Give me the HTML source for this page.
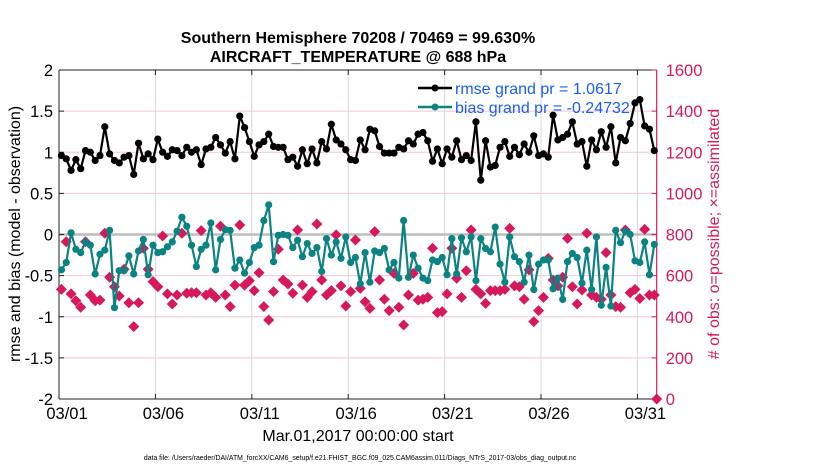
<!DOCTYPE html>
<html><head><meta charset="utf-8">
<style>
html,body{margin:0;padding:0;background:#fff;}
svg{display:block;font-family:"Liberation Sans",Arial,sans-serif;}
</style></head>
<body>
<svg id="chart" width="830" height="470" viewBox="0 0 830 470" xmlns="http://www.w3.org/2000/svg">
<g id="grid"></g>
<g id="axes"></g>
<g id="marks"></g>
<text x="358" y="43" text-anchor="middle" font-size="16" font-weight="bold">Southern Hemisphere 70208 / 70469 = 99.630%</text>
<text x="358" y="62" text-anchor="middle" font-size="16" font-weight="bold">AIRCRAFT_TEMPERATURE @ 688 hPa</text>
<text transform="translate(20,234) rotate(-90)" text-anchor="middle" font-size="16">rmse and bias (model - observation)</text>
<text transform="translate(719,234) rotate(-90)" text-anchor="middle" font-size="16" fill="#d6195c"># of obs: o=possible; ×=assimilated</text>
<text x="358" y="441" text-anchor="middle" font-size="16">Mar.01,2017 00:00:00 start</text>
<text x="360" y="460" text-anchor="middle" font-size="6.9">data file: /Users/raeder/DAI/ATM_forcXX/CAM6_setup/f.e21.FHIST_BGC.f09_025.CAM6assim.011/Diags_NTrS_2017-03/obs_diag_output.nc</text>
<g>
  <line x1="418" y1="88" x2="452" y2="88" stroke="#000" stroke-width="2.5"/>
  <circle cx="435" cy="88" r="3.5" fill="#000"/>
  <text x="455" y="94" font-size="16" fill="#1a5cff">rmse grand pr = 1.0617</text>
  <line x1="418" y1="107" x2="452" y2="107" stroke="#0b8383" stroke-width="2.5"/>
  <circle cx="435" cy="107" r="3.5" fill="#0b8383"/>
  <text x="455" y="113" font-size="16" fill="#1a5cff">bias grand pr = -0.24732</text>
</g>
</svg>
<script>
const rmseValues=[0.96,0.92,0.78,0.91,0.80,1.02,1.00,0.90,0.96,1.31,0.98,0.90,0.87,0.94,0.96,0.73,1.11,0.92,0.98,0.91,1.16,1.00,0.95,1.03,1.02,0.96,1.06,1.00,1.03,0.85,1.04,1.06,1.18,1.09,0.99,1.13,0.92,1.44,1.30,1.13,0.95,1.09,1.13,1.22,1.07,
1.06,1.06,0.91,0.94,0.83,1.03,0.86,1.04,0.87,1.13,1.04,1.34,1.15,1.10,1.03,0.91,0.90,1.15,1.03,1.28,1.26,1.07,0.99,0.99,0.99,1.06,1.04,1.14,1.10,1.22,1.24,1.14,0.89,1.04,0.86,1.04,0.94,1.14,0.91,0.96,0.90,
1.37,0.66,1.14,0.82,0.84,1.06,1.13,0.95,1.06,0.97,1.10,1.00,1.20,0.96,0.98,0.94,1.45,1.15,1.18,1.22,1.37,1.10,1.13,0.83,1.15,1.03,1.25,1.06,1.31,0.87,1.18,1.14,1.35,1.60,1.64,1.32,1.28,1.02];
const biasValues=[-0.43,-0.34,0.02,-0.18,-0.22,-0.09,-0.13,-0.48,-0.24,-0.19,0.05,-0.89,-0.44,-0.44,-0.26,-0.48,-0.20,-0.06,-0.49,-0.13,-0.22,-0.21,-0.15,-0.09,0.04,0.21,0.10,-0.13,-0.39,-0.18,-0.13,0.14,-0.43,-0.06,0.06,0.05,-0.41,-0.31,-0.47,-0.34,-0.16,-0.13,0.17,0.36,-0.33,
-0.01,0.00,-0.01,-0.16,-0.07,-0.27,-0.11,-0.23,-0.16,-0.45,-0.05,-0.25,-0.09,-0.29,-0.03,-0.34,-0.28,-0.60,-0.22,-0.58,-0.20,-0.22,-0.17,-0.43,-0.34,-0.53,0.17,-0.52,-0.25,-0.41,-0.53,-0.56,-0.31,-0.33,-0.28,-0.49,-0.05,-0.48,-0.04,-0.21,-0.03,
-0.56,-0.05,-0.17,-0.21,0.09,-0.36,-0.58,-0.03,-0.27,-0.33,-0.58,-0.25,-0.67,-0.36,-0.31,-0.31,-0.66,-0.53,-0.79,-0.33,-0.23,-0.28,-0.59,-0.19,-0.67,-0.03,-0.86,-0.40,-0.87,0.05,-0.10,0.04,0.00,-0.32,-0.34,-0.09,-0.49,-0.12];
const obsCounts=[533,765,511,478,446,765,506,478,481,806,592,546,501,631,468,352,468,733,631,571,546,793,511,462,506,806,514,517,517,819,506,517,494,841,506,449,554,846,554,575,527,614,449,384,522,
728,579,559,514,822,554,494,522,851,579,506,527,798,550,452,522,773,538,473,441,814,579,485,430,611,446,360,506,611,481,485,494,733,420,425,511,733,587,494,624,822,
533,511,465,527,527,527,533,830,550,546,485,628,376,430,494,684,579,550,592,781,546,462,530,806,506,494,485,712,506,449,446,822,517,533,489,825,506,506];
const endDay=31, endCount=0;
const xTickLabels=["03/01","03/06","03/11","03/16","03/21","03/26","03/31"];
const xTickDays=[0,5,10,15,20,25,30];
const leftTicks=[-2,-1.5,-1,-0.5,0,0.5,1,1.5,2];
const rightTicks=[0,200,400,600,800,1000,1200,1400,1600];

const L=59,R=656.7,T=70,B=399;
const X=d=>L+(d/31)*(R-L);
const YL=v=>B-(v+2)/4*(B-T);
const YR=v=>B-v/1600*(B-T);
const dayOf=i=>0.125+i*0.25;
const NS="http://www.w3.org/2000/svg";
function mk(tag,parent,attrs){const e=document.createElementNS(NS,tag);for(const k in attrs)e.setAttribute(k,attrs[k]);parent.appendChild(e);return e;}
const grid=document.getElementById('grid'),axes=document.getElementById('axes'),marks=document.getElementById('marks');
const MAG="#d6195c";

rightTicks.forEach(t=>{if(t>0&&t<1600){const g=mk('line',grid,{x1:L,x2:R,y1:YR(t),y2:YR(t),stroke:"#f0c8d6","stroke-width":1});

}});
xTickDays.forEach(d=>{if(d>0){const g=mk('line',grid,{x1:X(d),x2:X(d),y1:T,y2:B,stroke:"#d8d8d8","stroke-width":1});

}});
const zl=mk('line',grid,{x1:L,x2:R,y1:YL(0),y2:YL(0),stroke:"#bdbdbd","stroke-width":2.5});



const a1=mk('line',axes,{x1:L,x2:L,y1:T,y2:B,stroke:"#222","stroke-width":1});


const a2=mk('line',axes,{x1:L,x2:R,y1:B,y2:B,stroke:"#222","stroke-width":1});


const a3=mk('line',axes,{x1:L,x2:R,y1:T,y2:T,stroke:"#222","stroke-width":1});


const a4=mk('line',axes,{x1:R,x2:R,y1:T,y2:B,stroke:MAG,"stroke-width":1.2});


leftTicks.forEach(t=>{const y=YL(t);mk('line',axes,{x1:L,x2:L+5,y1:y,y2:y,stroke:"#222"});
const tx=mk('text',axes,{x:L-6,y:y+6,"text-anchor":"end","font-size":16.5});tx.textContent=String(t);

});
rightTicks.forEach(t=>{const y=YR(t);mk('line',axes,{x1:R-5,x2:R,y1:y,y2:y,stroke:MAG});
const tx=mk('text',axes,{x:R+9,y:y+6,"font-size":16.5,fill:MAG});tx.textContent=String(t);

});
xTickDays.forEach((d,i)=>{const x=X(d);mk('line',axes,{x1:x,x2:x,y1:B-5,y2:B,stroke:"#222"});mk('line',axes,{x1:x,x2:x,y1:T,y2:T+5,stroke:"#222"});
const tx=mk('text',axes,{x:x+8,y:B+20,"text-anchor":"middle","font-size":16.5});tx.textContent=xTickLabels[i];

});

function diamond(x,y,s){return `M${x},${y-s}L${x+s},${y}L${x},${y+s}L${x-s},${y}Z`;}
obsCounts.forEach((c,i)=>{const x=X(dayOf(i)),y=YR(c);
const p=mk('path',marks,{d:diamond(x,y,5.5),fill:MAG});

});
const ep=mk('path',marks,{d:diamond(X(endDay),YR(endCount),5.5),fill:MAG});



function series(vals,color,name){
  const pts=vals.map((v,i)=>X(dayOf(i)).toFixed(1)+","+YL(v).toFixed(1)).join(" ");
  const pl=mk('polyline',marks,{points:pts,fill:"none",stroke:color,"stroke-width":2.2,"stroke-linejoin":"round"});
  
  
  vals.forEach((v,i)=>{const c=mk('circle',marks,{cx:X(dayOf(i)),cy:YL(v),r:3.6,fill:color});
  
  });
}
series(biasValues,"#0b8383","bias");
series(rmseValues,"#000","rmse");
</script>
</body></html>
